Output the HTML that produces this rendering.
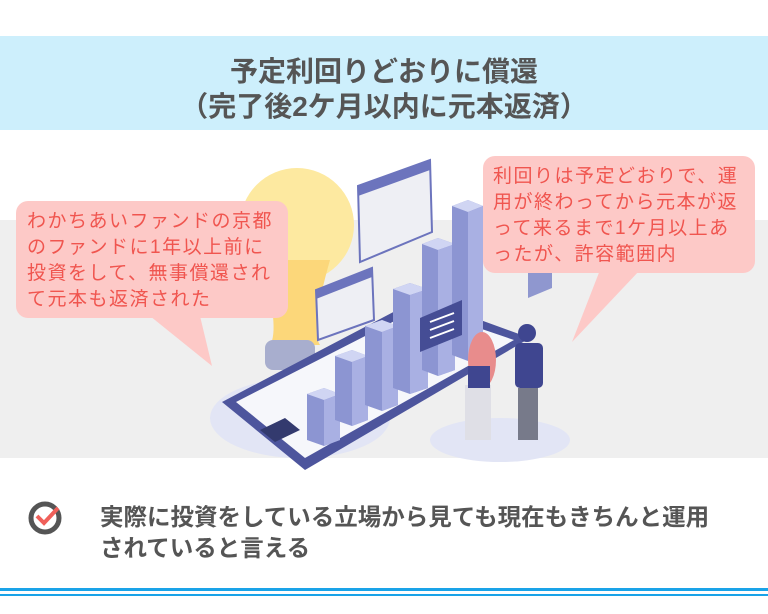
<!DOCTYPE html>
<html><head><meta charset="utf-8"><style>
*{margin:0;padding:0;box-sizing:border-box}
body{width:768px;height:614px;background:#fff;position:relative;overflow:hidden;font-family:"Liberation Sans","Noto Sans CJK JP",sans-serif}
.band{position:absolute;left:0;top:36px;width:768px;height:94px;background:#cdeffc}
.title{position:absolute;left:0;top:54px;width:768px;text-align:center;font-size:28px;font-weight:bold;color:#555;line-height:35px}
.gray{position:absolute;left:0;top:220px;width:768px;height:238px;background:#efefef}
.bub{position:absolute;background:#fdc9c7;border-radius:12px;color:#f0554f;font-size:19px;line-height:26px;letter-spacing:1.5px}
.bot{position:absolute;left:100px;top:502px;font-size:23.5px;font-weight:bold;color:#555;line-height:31px}
.l1{position:absolute;left:0;top:588px;width:768px;height:3px;background:#1aa3e8}
.l2{position:absolute;left:0;top:594px;width:768px;height:2px;background:#1aa3e8}
</style></head><body>
<div class="band"></div>
<div class="title">予定利回りどおりに償還<br>（完了後2ケ月以内に元本返済）</div>
<div class="gray"></div>
<svg style="position:absolute;left:0;top:0" width="768" height="614">
<ellipse cx="300" cy="418" rx="90" ry="40" fill="#e2e5f5"/>
<ellipse cx="500" cy="440" rx="70" ry="22" fill="#e2e5f5"/>
<circle cx="297" cy="225" r="57" fill="#fde9a0"/>
<path d="M262 260 Q280 330 270 345 L320 345 Q310 330 330 260 Z" fill="#fcd77a"/>
<rect x="265" y="340" width="50" height="30" rx="8" fill="#a8aece"/>
<polygon points="222,402 420,298 530,338 305,470" fill="#4d559d"/>
<polygon points="236,402 420,308 514,340 305,458" fill="#f6f7fb"/>
<polygon points="260,430 285,418 300,430 275,442" fill="#333a6e"/>
<polygon points="358,186 430,160 432,232 360,262" fill="#eeeff4" stroke="#6c74bd" stroke-width="2"/>
<polygon points="358,186 430,160 430,170 358,196" fill="#6c74bd"/>
<polygon points="316,290 372,268 374,320 318,340" fill="#eeeff4" stroke="#6c74bd" stroke-width="2"/>
<polygon points="316,290 372,268 372,277 316,299" fill="#6c74bd"/>
<g>
<polygon points="307,394 324,388 340,394 340,440 324,446 307,440" fill="#8c95d2"/><polygon points="307,394 324,388 340,394 324,400" fill="#d0d5f3"/><polygon points="324,400 340,394 340,440 324,446" fill="#a9b0e3"/>
<polygon points="335,356 352,350 368,356 368,420 352,426 335,420" fill="#8c95d2"/><polygon points="335,356 352,350 368,356 352,362" fill="#d0d5f3"/><polygon points="352,362 368,356 368,420 352,426" fill="#a9b0e3"/>
<polygon points="365,326 382,320 398,326 398,405 382,411 365,405" fill="#8c95d2"/><polygon points="365,326 382,320 398,326 382,332" fill="#d0d5f3"/><polygon points="382,332 398,326 398,405 382,411" fill="#a9b0e3"/>
<polygon points="393,289 410,283 428,289 428,388 410,394 393,388" fill="#8c95d2"/><polygon points="393,289 410,283 428,289 410,295" fill="#d0d5f3"/><polygon points="410,295 428,289 428,388 410,394" fill="#a9b0e3"/>
<polygon points="422,244 438,238 455,244 455,370 438,376 422,370" fill="#8c95d2"/><polygon points="422,244 438,238 455,244 438,250" fill="#d0d5f3"/><polygon points="438,250 455,244 455,370 438,376" fill="#a9b0e3"/>
<polygon points="452,206 468,200 483,206 483,355 468,361 452,355" fill="#8c95d2"/><polygon points="452,206 468,200 483,206 468,212" fill="#d0d5f3"/><polygon points="468,212 483,206 483,355 468,361" fill="#a9b0e3"/>
</g>
<polygon points="420,318 462,300 462,335 420,352" fill="#454d95"/>
<path d="M430 322l24-9M430 330l24-9M430 338l24-9" stroke="#fff" stroke-width="2"/>
<polygon points="528,272 552,262 552,288 528,298" fill="#8f97cf"/>
<ellipse cx="482" cy="360" rx="14" ry="28" fill="#e88c8c"/>
<rect x="465" y="385" width="26" height="55" fill="#dfdfe6"/>
<rect x="468" y="366" width="22" height="22" fill="#3f4690"/>
<circle cx="527" cy="333" r="9" fill="#3f4690"/>
<rect x="515" y="343" width="28" height="45" rx="5" fill="#3f4690"/>
<rect x="518" y="388" width="20" height="52" fill="#777a8a"/>
<circle cx="45" cy="518" r="14" fill="none" stroke="#555" stroke-width="5"/>
<path d="M37 516l7 7 14-15" fill="none" stroke="#f0605a" stroke-width="4"/>
<polygon points="150,316 200,316 212,366" fill="#fdc9c7"/>
<polygon points="600,270 640,270 572,342" fill="#fdc9c7"/>
</svg>
<div class="bub" style="left:16px;top:201px;width:272px;height:117px;padding:8px 0 0 11px">わかちあいファンドの京都<br>のファンドに1年以上前に<br>投資をして、無事償還され<br>て元本も返済された</div>
<div class="bub" style="left:483px;top:156px;width:272px;height:117px;padding:8px 0 0 10px">利回りは予定どおりで、運<br>用が終わってから元本が返<br>って来るまで1ケ月以上あ<br>ったが、許容範囲内</div>
<div class="bot">実際に投資をしている立場から見ても現在もきちんと運用<br>されていると言える</div>
<div class="l1"></div><div class="l2"></div>
</body></html>
